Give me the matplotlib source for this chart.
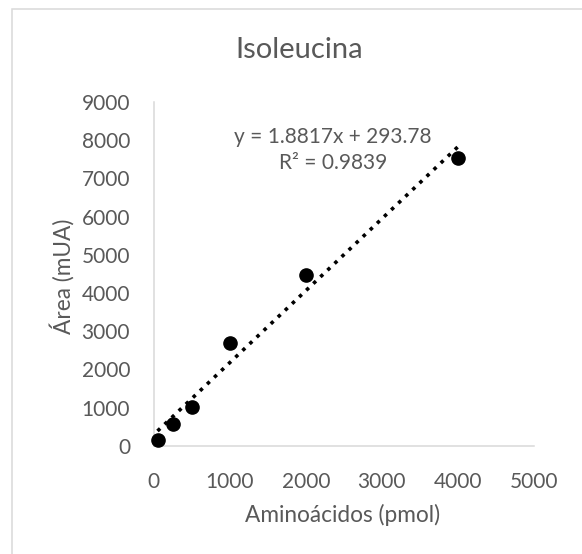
import numpy as np
import matplotlib
matplotlib.use("Agg")
import matplotlib.pyplot as plt
from matplotlib.patches import Rectangle

# Data
amino_pmol = [50, 250, 500, 1000, 2000, 4000]
area_mua = [150, 560, 1025, 2700, 4475, 7530]
x_ticks = [0, 1000, 2000, 3000, 4000, 5000]
y_ticks = [0, 1000, 2000, 3000, 4000, 5000, 6000, 7000, 8000, 9000]
title = "Isoleucina"
x_label = "Aminoácidos (pmol)"
y_label = "Área (mUA)"
eq_text = "y = 1.8817x + 293.78\nR² = 0.9839"

plt.rcParams['font.family'] = ['Lato', 'DejaVu Sans']
TXT = '#595959'
GRID = '#d9d9d9'

fig = plt.figure(figsize=(5.82, 5.54), dpi=100)
fig.patch.set_facecolor('white')
fig.patches.append(Rectangle((12/582, -0.1), 1.2, 1 - 9/554 + 0.1,
                             transform=fig.transFigure, fill=False,
                             edgecolor=GRID, linewidth=1.1))

ax = fig.add_axes([153.7/582, 1 - 445.7/554, (534 - 153.7)/582, (445.7 - 102)/554])
ax.set_xlim(0, 5000)
ax.set_ylim(0, 9000)
ax.set_xticks(x_ticks)
ax.set_yticks(y_ticks)
for s in ['top', 'right']:
    ax.spines[s].set_visible(False)
for s in ['left', 'bottom']:
    ax.spines[s].set_color(GRID)
    ax.spines[s].set_linewidth(1.1)
ax.tick_params(length=0, labelsize=15, labelcolor=TXT)
ax.tick_params(axis='y', pad=17)
ax.tick_params(axis='x', pad=19)

# trendline
x = np.array(amino_pmol, dtype=float)
y = np.array(area_mua, dtype=float)
m, b = np.polyfit(x, y, 1)
xx = np.array([x.min(), x.max()])
ax.plot(xx, m * xx + b, color='black', linewidth=2.6, linestyle=(0, (1, 1.7)),
        dash_capstyle='butt', zorder=2)
ax.plot(x, y, 'o', color='black', markersize=9.5, zorder=3, clip_on=False)

fig.text(333/582, 1 - 150/554, eq_text, fontsize=15, color=TXT,
         ha='center', va='center', linespacing=1.4)

fig.text(299/582, 1 - 50/554, title, fontsize=21, color=TXT, ha='center', va='center')
fig.text(343/582, 1 - 515/554, x_label, fontsize=16.3, color=TXT, ha='center', va='center')
fig.text(61.7/582, 1 - 276/554, y_label, fontsize=16.3, color=TXT, ha='center', va='center',
         rotation=90)

fig.savefig('out.png', dpi=100)
